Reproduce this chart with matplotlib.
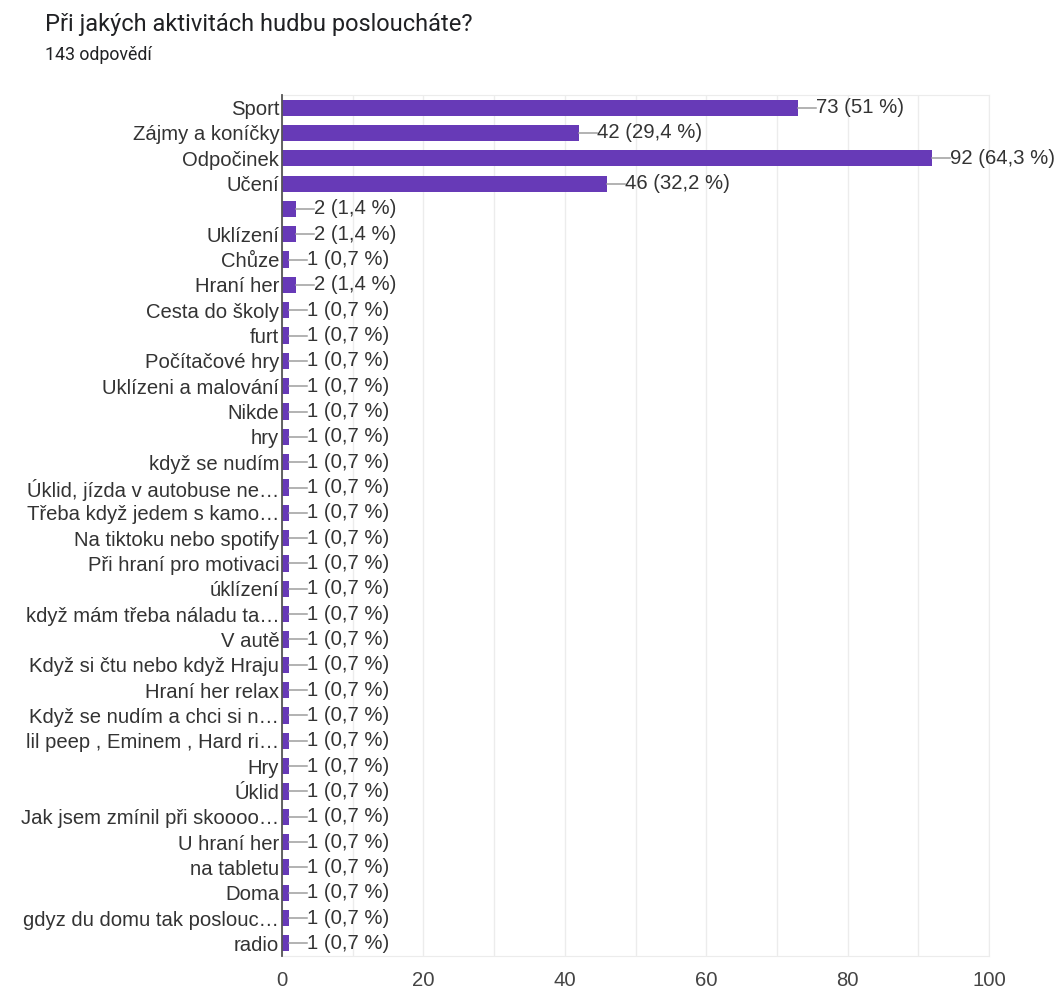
import matplotlib.pyplot as plt
from matplotlib.ticker import MultipleLocator

# odpovědi na otázku
labels = [
    "Sport", "Zájmy a koníčky", "Odpočinek", "Učení", "", "Uklízení", "Chůze",
    "Hraní her", "Cesta do školy", "furt", "Počítačové hry", "Uklízeni a malování",
    "Nikde", "hry", "když se nudím", "Úklid, jízda v autobuse ne…",
    "Třeba když jedem s kamo…", "Na tiktoku nebo spotify", "Při hraní pro motivaci",
    "úklízení", "když mám třeba náladu ta…", "V autě", "Když si čtu nebo když Hraju",
    "Hraní her relax", "Když se nudím a chci si n…", "lil peep , Eminem , Hard ri…",
    "Hry", "Úklid", "Jak jsem zmínil při skoooo…", "U hraní her", "na tabletu",
    "Doma", "gdyz du domu tak poslouc…", "radio",
]
counts = [73, 42, 92, 46, 2, 2, 1, 2] + [1] * 26
total = 143

BAR = "#673ab7"
TXT = "#333333"
LAB = ["Liberation Sans", "DejaVu Sans"]
FS = 14.6

plt.rcParams["font.family"] = ["Roboto", "DejaVu Sans"]

fig = plt.figure(figsize=(10.59, 9.89), dpi=100)
ax = fig.add_axes([282 / 1059, 1 - 956 / 989, 707 / 1059, 861 / 989])

y = list(range(len(labels)))
ax.barh(y, counts, height=0.64, color=BAR, zorder=3)

# popisky hodnot s krátkou spojnicí
lead = 2.5
for yi, c in zip(y, counts):
    pct = round(c / total * 100, 1)
    pct_s = f"{pct:g}".replace(".", ",")
    ax.plot([c, c + lead], [yi, yi], color="#9e9e9e", lw=1.1, zorder=4)
    ax.text(c + lead, yi, f"{c} ({pct_s} %)", va="center", ha="left",
            fontsize=FS, color=TXT, family=LAB, zorder=5)

ax.set_xlim(0, 100)
ax.set_ylim(len(labels) - 0.5, -0.5)
ax.set_yticks(y)
ax.set_yticklabels(labels, fontsize=FS, color=TXT, family=LAB)
ax.xaxis.set_major_locator(MultipleLocator(20))
ax.xaxis.set_minor_locator(MultipleLocator(10))
ax.tick_params(axis="x", which="both", length=0, pad=11)
for t in ax.get_xticklabels():
    t.set_family(LAB)
    t.set_fontsize(FS)
    t.set_color("#444444")
ax.tick_params(axis="y", length=0, pad=2)
ax.grid(axis="x", which="both", color="#ececec", lw=1, zorder=0)

for side in ("top", "right", "bottom"):
    ax.spines[side].set_color("#ececec")
ax.spines["left"].set_color("#555555")
ax.spines["left"].set_linewidth(1.3)
ax.spines["left"].set_zorder(6)

fig.text(45 / 1059, 1 - 24 / 989, "Při jakých aktivitách hudbu posloucháte?",
         fontsize=17, color="#202124", va="center", ha="left")
fig.text(45 / 1059, 1 - 55 / 989, "143 odpovědí",
         fontsize=12.8, color="#202124", va="center", ha="left")

fig.savefig("out.png", dpi=100)
